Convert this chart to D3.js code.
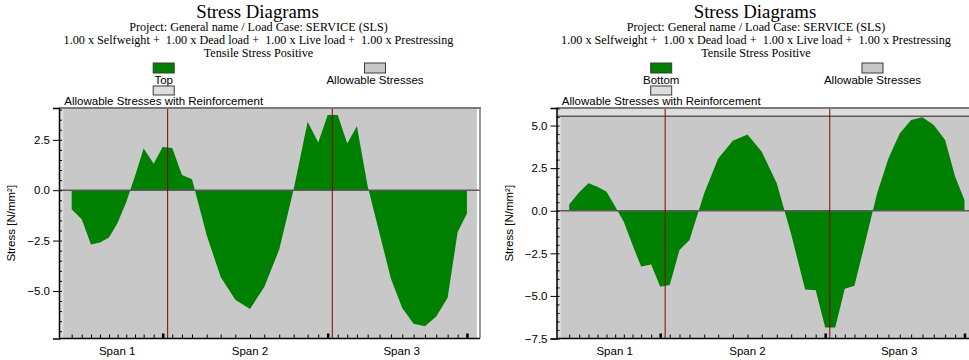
<!DOCTYPE html>
<html>
<head>
<meta charset="utf-8">
<script src="https://cdn.jsdelivr.net/npm/d3@7"></script>
<style>
  html, body { margin: 0; padding: 0; background: #ffffff; overflow: hidden; }
  svg { display: block; }
  text { white-space: pre; }
</style>
</head>
<body>
<svg id="chart" width="969" height="360"></svg>
<script>
// ---------------- DATA ----------------
const titleText = "Stress Diagrams";
const subtitleLines = [
  "Project: General name / Load Case: SERVICE (SLS)",
  "1.00 x Selfweight +  1.00 x Dead load +  1.00 x Live load +  1.00 x Prestressing",
  "Tensile Stress Positive"
];
// section positions along the beam [m]
const xPositions = [0, 1.09, 2.1, 3.08, 4.06, 5.0, 5.94, 6.89, 7.83, 8.92, 9.9, 10.94, 12.0, 13.09,
  14.69, 16.21, 17.8, 19.4, 20.95, 22.58, 24.15, 25.67, 26.82, 27.85, 28.94, 29.98, 31.03, 32.2,
  33.5, 34.73, 35.96, 37.2, 38.43, 39.66, 40.9, 41.99, 43.0];
const supportTickIdx = [10, 23, 36];
// stresses [N/mm²]
const topStress = [-0.95, -1.44, -2.70, -2.60, -2.35, -1.61, -0.58, 0.70, 2.07, 1.31, 2.14, 2.10,
  0.75, 0.55, -2.24, -4.31, -5.44, -5.89, -4.81, -2.94, 0.05, 3.40, 2.37, 3.73, 3.73, 2.32, 3.18,
  0.20, -2.16, -4.39, -5.85, -6.63, -6.75, -6.27, -5.34, -2.07, -1.16];
const bottomStress = [0.37, 1.08, 1.61, 1.41, 1.12, 0.25, -0.64, -2.01, -3.28, -3.15, -4.46, -4.36,
  -2.31, -1.72, 1.02, 3.07, 4.11, 4.48, 3.46, 1.61, -1.38, -4.63, -4.67, -6.86, -6.86, -4.58, -4.41,
  -1.85, 1.02, 3.07, 4.54, 5.32, 5.48, 5.03, 4.15, 2.0, 0.63];
const supportLines = [10.44, 28.35];
const spanLabels = ["Span 1", "Span 2", "Span 3"];
const spanCenters = [4.95, 19.4, 35.9];
const xDomain = [-1.38, 44.42];
const bandExtent = [-0.9, 44.09];
// per-panel settings
const panels = [
  { series: "Top", values: topStress, yDomain: [-7.36, 4.08], yTicks: [-5, -2.5, 0, 2.5],
    allowTop: 4.5, offset: 0 },
  { series: "Bottom", values: bottomStress, yDomain: [-7.5, 6.03], yTicks: [-7.5, -5, -2.5, 0, 2.5, 5],
    allowTop: 5.55, offset: 497.5 }
];
const legendAllow = "Allowable Stresses";
const legendRein = "Allowable Stresses with Reinforcement";
const yLabel = "Stress [N/mm²]";

// ---------------- DRAW ----------------
const svg = d3.select("#chart");
const SERIF = "'Liberation Serif', 'Times New Roman', serif";
const SANS = "'Liberation Sans', Arial, sans-serif";
const plotL = 59, plotR = 480, plotT = 108, plotB = 338.5;
const GREEN = "#008000", GRAY = "#c8c8c8", LIGHT = "#dedede";

panels.forEach((p, pi) => {
  const g = svg.append("g").attr("transform", `translate(${p.offset},0)`);
  const cx = 257.5;
  // titles
  g.append("text").attr("x", cx).attr("y", 17.5).attr("text-anchor", "middle")
    .style("font-family", SERIF).style("font-size", "18.8px").text(titleText);
  subtitleLines.forEach((t, i) => {
    g.append("text").attr("x", cx + 1).attr("y", 31 + i * 13).attr("text-anchor", "middle")
      .style("font-family", SERIF).style("font-size", "12.2px").text(t);
  });
  // legend
  const lg = [
    { label: p.series, fill: GREEN, x: 163.7, by: 63, bh: 10, ty: 84 },
    { label: legendAllow, fill: GRAY, x: 375, by: 63, bh: 10, ty: 84 },
    { label: legendRein, fill: LIGHT, x: 163.7, by: 86, bh: 9, ty: 105 }
  ];
  lg.forEach(d => {
    g.append("rect").attr("x", d.x - 10.5).attr("y", d.by).attr("width", 21).attr("height", d.bh)
      .attr("fill", d.fill).attr("stroke", "#3a3a3a").attr("stroke-width", 1);
    g.append("text").attr("x", d.x).attr("y", d.ty).attr("text-anchor", "middle")
      .style("font-family", SANS).style("font-size", "11.5px").text(d.label);
  });

  const x = d3.scaleLinear().domain(xDomain).range([plotL, plotR]);
  const y = d3.scaleLinear().domain(p.yDomain).range([plotB, plotT]);

  const clipId = "clip" + pi;
  g.append("clipPath").attr("id", clipId).append("rect")
    .attr("x", plotL).attr("y", plotT).attr("width", plotR - plotL).attr("height", plotB - plotT);
  const pg = g.append("g").attr("clip-path", `url(#${clipId})`);

  // bands: reinforcement (light) and allowable (gray)
  pg.append("rect").attr("x", x(xDomain[0])).attr("y", plotT)
    .attr("width", x(bandExtent[1]) - x(xDomain[0])).attr("height", plotB - plotT).attr("fill", LIGHT);
  pg.append("rect").attr("x", x(bandExtent[0])).attr("y", y(p.allowTop))
    .attr("width", x(bandExtent[1]) - x(bandExtent[0])).attr("height", plotB - y(p.allowTop)).attr("fill", GRAY);
  if (y(p.allowTop) > plotT) {
    pg.append("line").attr("x1", plotL).attr("x2", plotR).attr("y1", y(p.allowTop)).attr("y2", y(p.allowTop))
      .attr("stroke", "#5a5a5a").attr("stroke-width", 1.5);
  }

  // stress area
  const data = xPositions.map((xp, i) => ({ x: xp, v: p.values[i] }));
  const area = d3.area().x(d => x(d.x)).y0(y(0)).y1(d => y(d.v));
  pg.append("path").datum(data).attr("d", area).attr("fill", GREEN);

  // zero line
  pg.append("line").attr("x1", plotL).attr("x2", plotR).attr("y1", y(0)).attr("y2", y(0))
    .attr("stroke", "#5a5a5a").attr("stroke-width", 1.5);

  // support lines
  supportLines.forEach(s => {
    g.append("line").attr("x1", x(s)).attr("x2", x(s)).attr("y1", plotT).attr("y2", plotB)
      .attr("stroke", "#8b0000").attr("stroke-width", 1);
  });

  // frame: top & right
  g.append("line").attr("x1", plotL).attr("x2", plotR + 1).attr("y1", plotT).attr("y2", plotT)
    .attr("stroke", "#7a7a7a").attr("stroke-width", 2);
  g.append("line").attr("x1", plotR).attr("x2", plotR).attr("y1", plotT).attr("y2", plotB)
    .attr("stroke", "#7a7a7a").attr("stroke-width", 1.5);

  // y axis
  const yAxis = d3.axisLeft(y).tickValues(p.yTicks).tickFormat(d3.format(".1f")).tickSize(6).tickPadding(3);
  const ya = g.append("g").attr("transform", `translate(${plotL},0)`).call(yAxis);
  ya.select(".domain").attr("stroke", "#000").attr("stroke-width", 1.5);
  ya.selectAll("text").style("font-family", SANS).style("font-size", "11.5px").attr("fill", "#000");
  const minorY = d3.range(Math.ceil(p.yDomain[0] * 2) / 2, p.yDomain[1], 0.5);
  const yMinor = d3.axisRight(y).tickValues(minorY).tickSize(3).tickFormat("");
  const ym = g.append("g").attr("transform", `translate(${plotL},0)`).call(yMinor);
  ym.select(".domain").remove();
  g.append("text").attr("transform", `translate(15,${(plotT + plotB) / 2}) rotate(-90)`)
    .attr("text-anchor", "middle").style("font-family", SANS).style("font-size", "11.5px").text(yLabel);

  // x axis
  const xAxis = d3.axisTop(x).tickValues(xPositions).tickSize(4).tickFormat("");
  const xa = g.append("g").attr("transform", `translate(0,${plotB})`).call(xAxis);
  xa.select(".domain").attr("d", `M${plotL},0H${plotR}`).attr("stroke", "#000").attr("stroke-width", 1.5);
  xa.selectAll(".tick line").attr("stroke-width", (d, i) => supportTickIdx.includes(i) ? 2.5 : 1)
    .attr("y2", (d, i) => supportTickIdx.includes(i) ? -5 : -4);
  spanLabels.forEach((s, i) => {
    g.append("text").attr("x", x(spanCenters[i])).attr("y", 355).attr("text-anchor", "middle")
      .style("font-family", SANS).style("font-size", "11.5px").text(s);
  });
});
</script>
</body>
</html>
